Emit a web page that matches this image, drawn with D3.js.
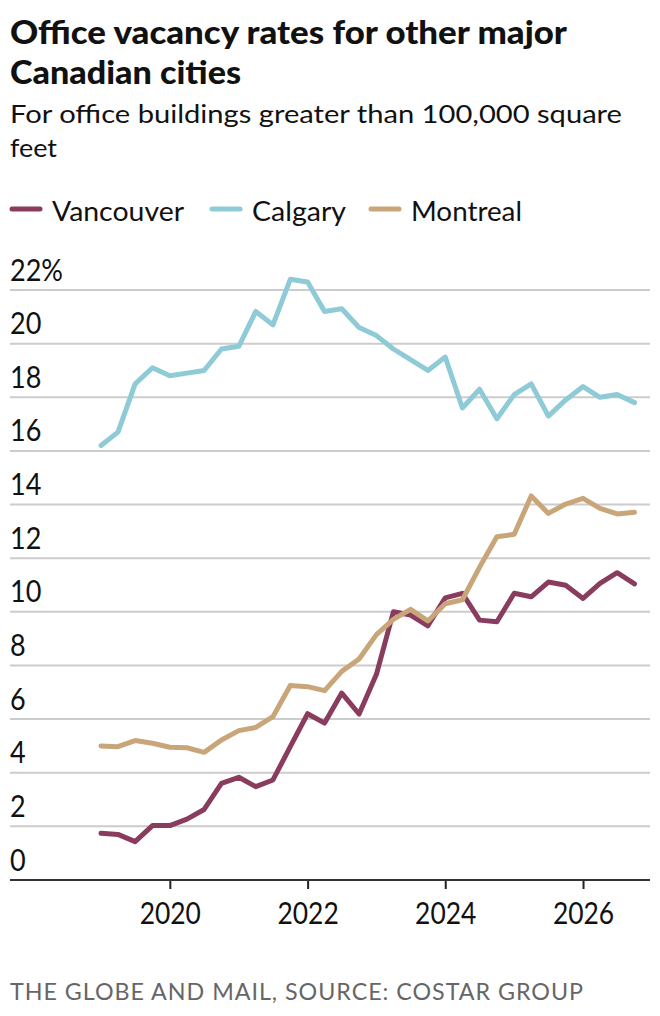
<!DOCTYPE html>
<html>
<head>
<meta charset="utf-8">
<script src="https://cdn.jsdelivr.net/npm/d3@7"></script>
<style>
  body { margin: 0; background: #fff; }
  svg { display: block; }
</style>
</head>
<body>
<svg id="chart" width="660" height="1016"></svg>
<script>
// 四半期ごとの日付
const quarters = [
    "2019-01-01", "2019-04-01", "2019-07-01", "2019-10-01",
    "2020-01-01", "2020-04-01", "2020-07-01", "2020-10-01",
    "2021-01-01", "2021-04-01", "2021-07-01", "2021-10-01",
    "2022-01-01", "2022-04-01", "2022-07-01", "2022-10-01",
    "2023-01-01", "2023-04-01", "2023-07-01", "2023-10-01",
    "2024-01-01", "2024-04-01", "2024-07-01", "2024-10-01",
    "2025-01-01", "2025-04-01", "2025-07-01", "2025-10-01",
    "2026-01-01", "2026-04-01", "2026-07-01", "2026-10-01"
];

// 空室率 (%)
const vancouver = [
    1.74, 1.70, 1.43, 2.03, 2.03, 2.27, 2.63, 3.60,
    3.83, 3.48, 3.73, 4.97, 6.20, 5.85, 6.97, 6.19,
    7.67, 10.00, 9.88, 9.48, 10.52, 10.69, 9.69, 9.63,
    10.69, 10.56, 11.11, 10.99, 10.50, 11.06, 11.46, 11.04
];
const calgary = [
    16.2, 16.7, 18.5, 19.1, 18.8, 18.9, 19.0, 19.8,
    19.9, 21.2, 20.7, 22.4, 22.3, 21.2, 21.3, 20.6,
    20.3, 19.8, 19.4, 19.0, 19.5, 17.6, 18.3, 17.2,
    18.1, 18.5, 17.3, 17.9, 18.4, 18.0, 18.1, 17.8
];
const montreal = [
    5.00, 4.97, 5.20, 5.10, 4.95, 4.93, 4.76, 5.22,
    5.57, 5.69, 6.09, 7.25, 7.21, 7.06, 7.78, 8.24,
    9.15, 9.72, 10.09, 9.66, 10.30, 10.45, 11.66, 12.80,
    12.89, 14.32, 13.67, 14.02, 14.23, 13.86, 13.65, 13.71
];

const seriesNames = ["Vancouver", "Calgary", "Montreal"];
const seriesValues = [vancouver, calgary, montreal];
const seriesColors = ["#8a3c5f", "#8fcbd6", "#c9a679"];

const yTicks = [0, 2, 4, 6, 8, 10, 12, 14, 16, 18, 20, 22];
const xTicks = ["2020-01-01", "2022-01-01", "2024-01-01", "2026-01-01"];

const FONT = "Lato, 'Open Sans', sans-serif";

/** 文字列の幅を指定の幅に合わせる
 *
 * @param {*} sel テキストの selection
 * @param {number} width 目標の幅
 */
function fitWidth(sel, width) {
    const len = sel.node().getComputedTextLength();
    if (Math.abs(len - width) > 2) {
        sel.attr("textLength", width).attr("lengthAdjust", "spacingAndGlyphs");
    }
}

/** 文字列を横方向に縮める（縦長の書体に似せる）
 *
 * @param {*} sel テキストの selection（複数可）
 * @param {number} k 倍率
 */
function squeeze(sel, k) {
    sel.each(function () {
        const len = this.getComputedTextLength();
        d3.select(this).attr("textLength", len * k).attr("lengthAdjust", "spacingAndGlyphs");
    });
}

function main() {
    const svg = d3.select("#chart");
    const parse = d3.timeParse("%Y-%m-%d");
    const dates = quarters.map(parse);

    const left = 10, right = 650;
    const x = d3.scaleTime()
        .domain(d3.extent(dates))
        .range([101, 634.5]);
    const y = d3.scaleLinear()
        .domain([0, 22])
        .range([880, 290]);

    // タイトル
    const t1 = svg.append("text").attr("x", left).attr("y", 44)
        .attr("font-family", FONT).attr("font-weight", 900).attr("font-size", 32)
        .attr("fill", "#111").text("Office vacancy rates for other major");
    fitWidth(t1, 557);
    const t2 = svg.append("text").attr("x", left).attr("y", 84)
        .attr("font-family", FONT).attr("font-weight", 900).attr("font-size", 32)
        .attr("fill", "#111").text("Canadian cities");
    fitWidth(t2, 231);

    // サブタイトル
    const s1 = svg.append("text").attr("x", left).attr("y", 123)
        .attr("font-family", FONT).attr("font-size", 25)
        .attr("fill", "#111").text("For office buildings greater than 100,000 square");
    fitWidth(s1, 612);
    const s2 = svg.append("text").attr("x", left).attr("y", 157)
        .attr("font-family", FONT).attr("font-size", 25)
        .attr("fill", "#111").text("feet");
    fitWidth(s2, 47);

    // 凡例
    const legendX = [10, 210, 369];
    const legendW = [132, 94, 111];
    const legend = svg.append("g");
    seriesNames.forEach((name, i) => {
        legend.append("line")
            .attr("x1", legendX[i] + 2).attr("x2", legendX[i] + 30)
            .attr("y1", 209).attr("y2", 209)
            .attr("stroke", seriesColors[i])
            .attr("stroke-width", 5)
            .attr("stroke-linecap", "round");
        const lt = legend.append("text")
            .attr("x", legendX[i] + 42).attr("y", 220.5)
            .attr("font-family", FONT).attr("font-size", 26)
            .attr("fill", "#111").text(name);
        fitWidth(lt, legendW[i]);
    });

    // 目盛り線
    svg.append("g").selectAll("line")
        .data(yTicks.filter(d => d > 0))
        .join("line")
        .attr("x1", left).attr("x2", right)
        .attr("y1", d => y(d)).attr("y2", d => y(d))
        .attr("stroke", "#cccccc")
        .attr("stroke-width", 2);

    // y軸ラベル
    const yl = svg.append("g").selectAll("text")
        .data(yTicks)
        .join("text")
        .attr("x", left)
        .attr("y", d => y(d) - 9.5)
        .attr("font-family", FONT).attr("font-size", 30)
        .attr("fill", "#111")
        .text(d => d === 22 ? d + "%" : d);
    squeeze(yl, 0.9);

    // 線を描画
    const line = d3.line()
        .x((d, i) => x(dates[i]))
        .y(d => y(d));
    svg.append("g").selectAll("path")
        .data(seriesValues)
        .join("path")
        .attr("d", d => line(d))
        .attr("fill", "none")
        .attr("stroke", (d, i) => seriesColors[i])
        .attr("stroke-width", 5)
        .attr("stroke-linejoin", "round")
        .attr("stroke-linecap", "round");

    // x軸
    const xAxis = d3.axisBottom(x)
        .tickValues(xTicks.map(parse))
        .tickFormat(d3.timeFormat("%Y"))
        .tickSize(9)
        .tickPadding(14);
    const ax = svg.append("g")
        .attr("transform", "translate(0,880)")
        .call(xAxis);
    ax.select(".domain").remove();
    ax.selectAll(".tick line").attr("stroke", "#222").attr("stroke-width", 2);
    const xl = ax.selectAll(".tick text")
        .attr("font-family", FONT).attr("font-size", 30)
        .attr("fill", "#111").attr("dy", "0.71em");
    squeeze(xl, 0.88);
    svg.append("line")
        .attr("x1", left).attr("x2", right)
        .attr("y1", 880).attr("y2", 880)
        .attr("stroke", "#333").attr("stroke-width", 2);

    // 出典
    const src = svg.append("text").attr("x", left).attr("y", 1000)
        .attr("font-family", FONT).attr("font-size", 24)
        .attr("letter-spacing", 1)
        .attr("fill", "#666").text("THE GLOBE AND MAIL, SOURCE: COSTAR GROUP");
    fitWidth(src, 574);
}

main();
</script>
</body>
</html>
